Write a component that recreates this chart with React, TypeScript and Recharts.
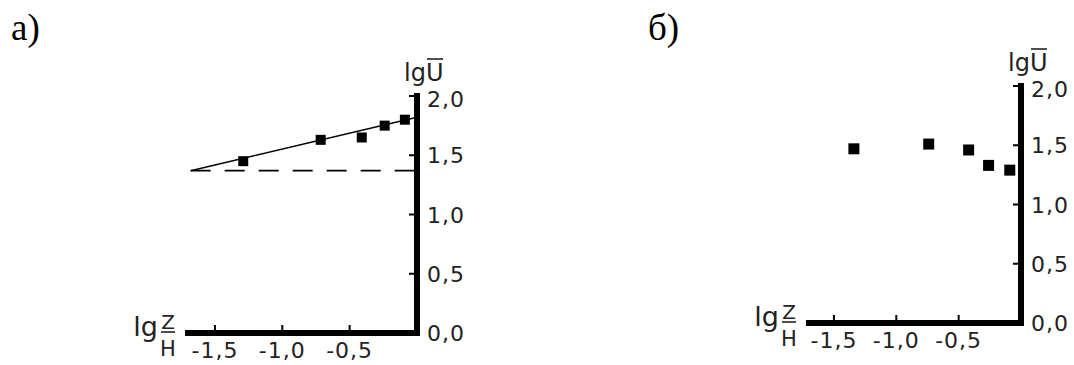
import React from 'react';
import { ScatterChart, Scatter, XAxis, YAxis } from 'recharts';

// ---- data ----
const xTicks = [-1.5, -1.0, -0.5];
const yTicks = [0, 0.5, 1.0, 1.5, 2.0];
const xDomain = [-1.7, 0];
const yDomain = [0, 2];

// panel а
const aZ = [-1.29, -0.715, -0.41, -0.24, -0.09];
const aU = [1.45, 1.63, 1.65, 1.75, 1.8];
const aFitZ = [-1.68, 0];
const aFitU = [1.37, 1.82];
const aDashZ = [-1.68, 0];
const aDashU = [1.37, 1.37];

// panel б
const bZ = [-1.34, -0.74, -0.42, -0.26, -0.09];
const bU = [1.47, 1.51, 1.46, 1.33, 1.29];

const panelTitles = ['а)', 'б)'];
const yAxisTitle = ['lg', 'U'];
const xAxisTitle = ['lg', 'Z', 'H'];

const zip = (xs: number[], ys: number[]) => xs.map((x, i) => ({ x, y: ys[i] }));

const FONT = '"DejaVu Sans", sans-serif';
const TXT = '#222';
const fmt = (v: number) => v.toFixed(1).replace('.', ',');

const XTick = (p: any) => {
  const { x, y, payload } = p;
  return (
    <g>
      <line x1={x} x2={x} y1={y} y2={y - 8} stroke="#000" strokeWidth={2} />
      <text x={x} y={y + 25} textAnchor="middle" fontFamily={FONT} fontSize={22} letterSpacing={1} fill={TXT}>
        {fmt(payload.value)}
      </text>
    </g>
  );
};

const YTick = (p: any) => {
  const { x, y, payload } = p;
  const top = payload.value === yDomain[1];
  return (
    <g>
      <line x1={x - 8} x2={x} y1={y} y2={y} stroke="#000" strokeWidth={2} />
      <text x={x + 10} y={y + (top ? 11 : 8)} textAnchor="start" fontFamily={FONT} fontSize={22} letterSpacing={1} fill={TXT}>
        {fmt(payload.value)}
      </text>
    </g>
  );
};

const makeYLabel = (dy: number) => (props: any) => {
  const vb = props.viewBox || {};
  const x0 = vb.x - 13;
  const base = vb.y + dy;
  return (
    <g>
      <text x={x0} y={base} fontFamily={FONT} fontSize={24} fill={TXT}>
        {yAxisTitle[0]}
        {yAxisTitle[1]}
      </text>
      <line x1={x0 + 23} x2={x0 + 39} y1={base - 22} y2={base - 22} stroke={TXT} strokeWidth={1.6} />
    </g>
  );
};

const XLabel = (props: any) => {
  const vb = props.viewBox || {};
  const x = vb.x;
  const y = vb.y;
  return (
    <g>
      <text x={x - 30} y={y + 3} textAnchor="end" fontFamily={FONT} fontSize={27} fill={TXT}>
        {xAxisTitle[0]}
      </text>
      <text x={x - 20} y={y - 4} textAnchor="middle" fontFamily={FONT} fontSize={20} fill={TXT}>
        {xAxisTitle[1]}
      </text>
      <line x1={x - 27} x2={x - 13} y1={y - 1} y2={y - 1} stroke={TXT} strokeWidth={1.6} />
      <text x={x - 20} y={y + 23} textAnchor="middle" fontFamily={FONT} fontSize={21} fill={TXT}>
        {xAxisTitle[2]}
      </text>
    </g>
  );
};

const square = (size: number) => (props: any) => (
  <rect x={props.cx - size / 2} y={props.cy - size / 2} width={size} height={size} fill="#000" />
);
const noShape = () => <g />;

type PanelProps = {
  left: number;
  margin: { top: number; right: number; bottom: number; left: number };
  points: { x: number; y: number }[];
  fit?: { x: number; y: number }[];
  dash?: { x: number; y: number }[];
  markerSize: number;
  labelDy: number;
};

const Panel = ({ left, margin, points, fit, dash, markerSize, labelDy }: PanelProps) => (
  <div style={{ position: 'absolute', left, top: 0 }}>
    <ScatterChart width={537} height={365} margin={margin}>
      <XAxis
        type="number"
        dataKey="x"
        domain={xDomain}
        ticks={xTicks}
        allowDataOverflow
        interval={0}
        height={30}
        axisLine={{ stroke: '#000', strokeWidth: 6, strokeLinecap: 'square' }}
        tickLine={false}
        tickSize={0}
        tickMargin={0}
        tick={XTick}
        label={XLabel}
      />
      <YAxis
        type="number"
        dataKey="y"
        orientation="right"
        domain={yDomain}
        ticks={yTicks}
        allowDataOverflow
        interval={0}
        width={50}
        axisLine={{ stroke: '#000', strokeWidth: 6, strokeLinecap: 'square' }}
        tickLine={false}
        tickSize={0}
        tickMargin={0}
        tick={YTick}
        label={makeYLabel(labelDy)}
      />
      {dash && (
        <Scatter
          data={dash}
          line={{ stroke: '#000', strokeWidth: 1.6, strokeDasharray: '20 14' }}
          shape={noShape}
          isAnimationActive={false}
        />
      )}
      {fit && (
        <Scatter
          data={fit}
          line={{ stroke: '#000', strokeWidth: 1.5 }}
          shape={noShape}
          isAnimationActive={false}
        />
      )}
      <Scatter data={points} shape={square(markerSize)} isAnimationActive={false} />
    </ScatterChart>
  </div>
);

export default function App() {
  return (
    <div style={{ position: 'absolute', left: 0, top: 0, width: 1074, height: 365, background: '#fff' }}>
      <svg width={1074} height={365} style={{ position: 'absolute', left: 0, top: 0 }}>
        <text x={11} y={40} fontFamily='"Liberation Serif", serif' fontSize={37} fill="#000">
          {panelTitles[0]}
        </text>
        <text x={648} y={40} fontFamily='"Liberation Serif", serif' fontSize={37} fill="#000">
          {panelTitles[1]}
        </text>
      </svg>
      <Panel
        left={0}
        margin={{ top: 96, right: 70, bottom: 2, left: 188 }}
        points={zip(aZ, aU)}
        fit={zip(aFitZ, aFitU)}
        dash={zip(aDashZ, aDashU)}
        markerSize={10}
        labelDy={-15}
      />
      <Panel
        left={537}
        margin={{ top: 86, right: 3, bottom: 12, left: 272 }}
        points={zip(bZ, bU)}
        markerSize={11}
        labelDy={-15}
      />
    </div>
  );
}
